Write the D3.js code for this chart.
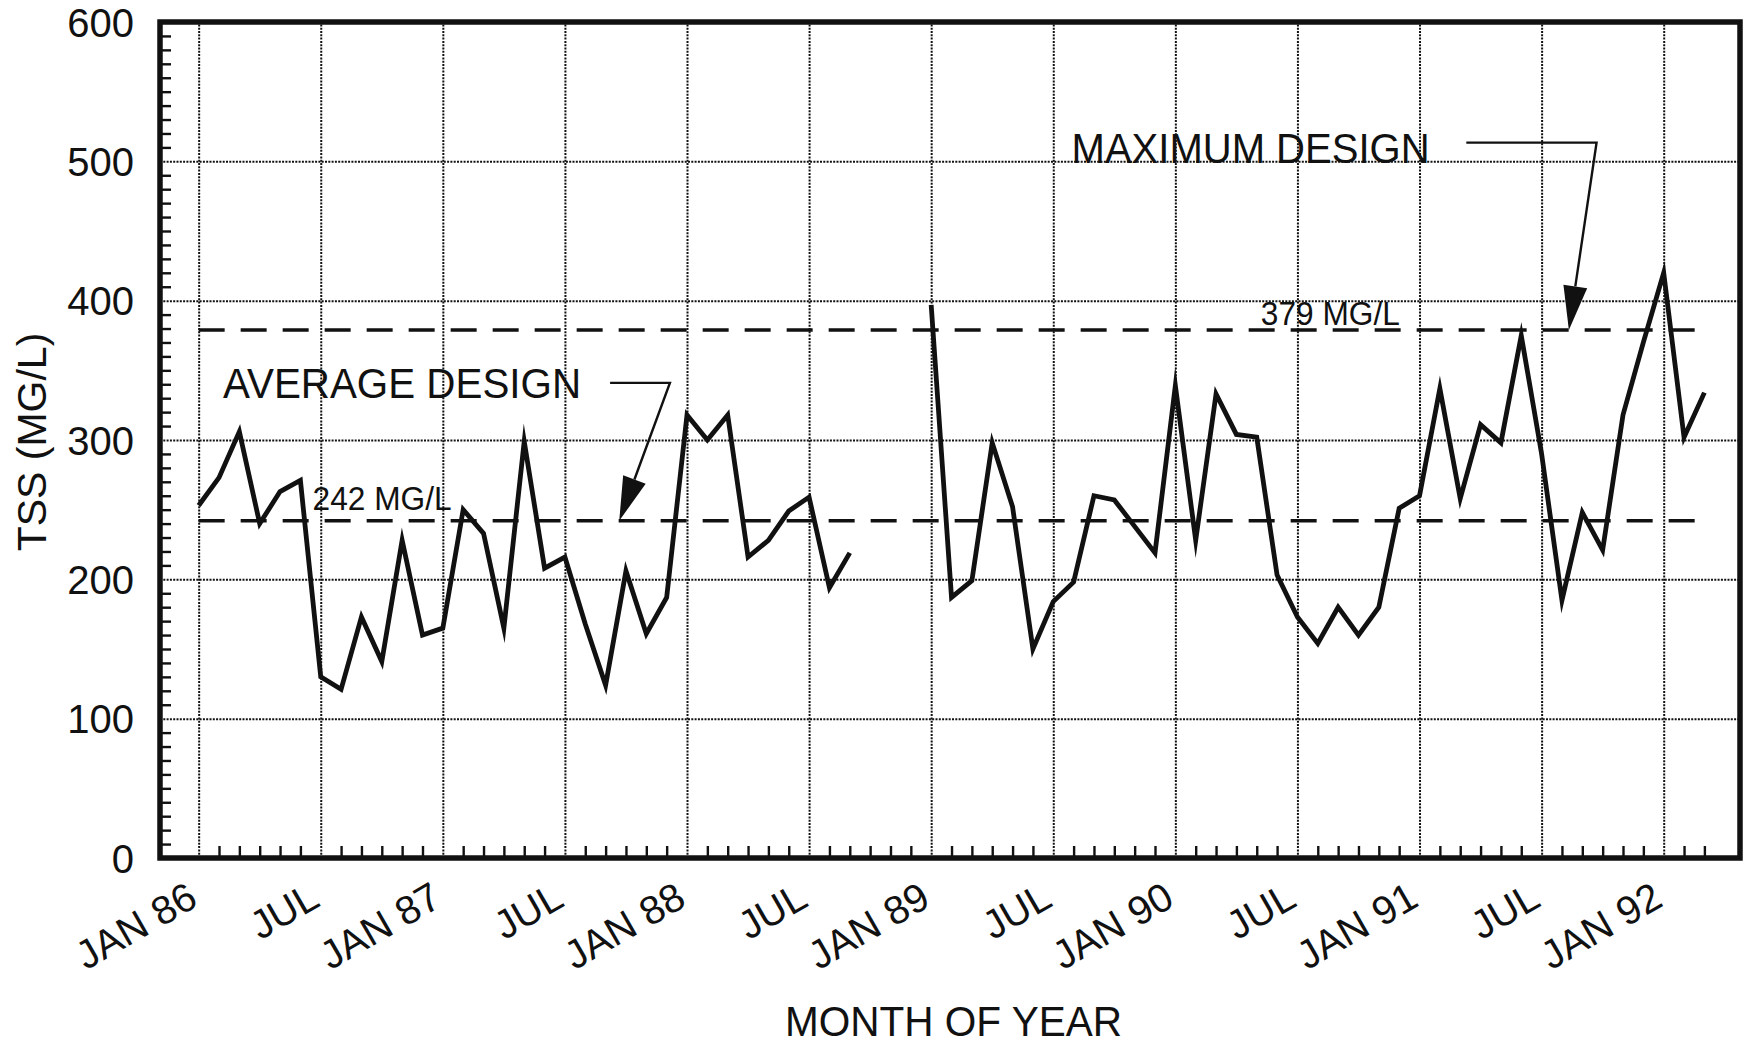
<!DOCTYPE html>
<html><head><meta charset="utf-8">
<script src="https://cdn.jsdelivr.net/npm/d3@7/dist/d3.min.js"></script>
<style>
html,body{margin:0;padding:0;background:#fff;}
svg{display:block;}
text{font-family:"Liberation Sans", Arial, Helvetica, sans-serif; fill:#111;}
</style></head><body>
<svg id="chart" width="1746" height="1047"></svg>
<script>
// ---- data (monthly TSS, month 0 = JAN 86) ----
const tss = [253,273,306,240,263,271,130,121,173,141,228,160,165,250,233,165,299,208,216,168,
  124,206,161,187,318,300,318,216,228,249,259,194,219,null,null,null,
  397,187,199,298,252,150,184,198,260,257,238,219,339,228,333,304,302,203,173,154,180,160,180,251,
  260,337,258,311,298,375,290,185,248,221,318,370,420,302,334];
const majorMonths = [0,6,12,18,24,30,36,42,48,54,60,66,72];
const majorLabels = ["JAN 86","JUL","JAN 87","JUL","JAN 88","JUL","JAN 89","JUL","JAN 90","JUL","JAN 91","JUL","JAN 92"];
const yTicks = [0,100,200,300,400,500,600];
const yGridValues = [100,200,300,400,500];
const designAverage = 242;
const designMaximum = 379;
const designLineMonths = [0,74];
const avgLabel = "242 MG/L", maxLabel = "379 MG/L";

const svg = d3.select("#chart");
const L=160, R=1740, T=22, B=858;
const x = d3.scaleLinear().domain([-1.9, 75.75]).range([L,R]);
const y = d3.scaleLinear().domain([0,600]).range([B,T]);

// grid
const gridStyle = g => g.selectAll("line").attr("stroke","#111").attr("stroke-width",2).attr("stroke-dasharray","2,1.3");
const gy = svg.append("g").attr("transform",`translate(${L},0)`)
  .call(d3.axisLeft(y).tickValues(yGridValues).tickSize(-(R-L)).tickFormat(""));
gy.select(".domain").remove(); gridStyle(gy);
const gx = svg.append("g").attr("transform",`translate(0,${B})`)
  .call(d3.axisBottom(x).tickValues(majorMonths).tickSize(-(B-T)).tickFormat(""));
gx.select(".domain").remove(); gridStyle(gx);

// minor ticks
const minorMonths = d3.range(1,75).filter(m => m%6!==0);
const mx = svg.append("g").attr("transform",`translate(0,${B})`)
  .call(d3.axisBottom(x).tickValues(minorMonths).tickSize(-12).tickFormat(""));
mx.select(".domain").remove(); mx.selectAll("line").attr("stroke","#111").attr("stroke-width",2.4);
const minorY = d3.range(10,600,10).filter(v => v%100!==0);
const my = svg.append("g").attr("transform",`translate(${L},0)`)
  .call(d3.axisLeft(y).tickValues(minorY).tickSize(-11).tickFormat(""));
my.select(".domain").remove(); my.selectAll("line").attr("stroke","#111").attr("stroke-width",2.4);

// frame
svg.append("rect").attr("x",L).attr("y",T).attr("width",R-L).attr("height",B-T)
  .attr("fill","none").attr("stroke","#111").attr("stroke-width",5.5);

// y tick labels
const yl = svg.append("g").attr("transform",`translate(${L},0)`)
  .call(d3.axisLeft(y).tickValues(yTicks).tickSize(0).tickPadding(26));
yl.select(".domain").remove();
yl.selectAll("text").attr("font-size",40).attr("font-family","Liberation Sans, Arial, sans-serif").attr("fill","#111").attr("dy","0.35em");

// x tick labels
svg.append("g").selectAll("text").data(majorMonths).join("text")
  .attr("transform", d => `translate(${x(d)+1},${905}) rotate(-30)`)
  .attr("text-anchor","end").attr("font-size",40)
  .text((d,i)=>majorLabels[i]);

// axis titles
svg.append("text").attr("transform",`translate(46,${(T+B)/2+2}) rotate(-90)`)
  .attr("text-anchor","middle").attr("font-size",41).text("TSS (MG/L)");
svg.append("text").attr("x",785).attr("y",1036).attr("font-size",43)
  .attr("textLength",337).attr("lengthAdjust","spacingAndGlyphs").text("MONTH OF YEAR");

// design lines
[designAverage, designMaximum].forEach(v => {
  svg.append("line").attr("x1",x(designLineMonths[0])).attr("x2",x(designLineMonths[1]))
    .attr("y1",y(v)).attr("y2",y(v)).attr("stroke","#111").attr("stroke-width",3.5)
    .attr("stroke-dasharray","26,16");
});

// data line
const line = d3.line().defined(d => d!=null).x((d,i)=>x(i)).y(d=>y(d));
svg.append("path").datum(tss).attr("d",line).attr("fill","none")
  .attr("stroke","#111").attr("stroke-width",4.8).attr("stroke-linejoin","miter").attr("stroke-miterlimit",10);

// annotations (positions in data coordinates)
function arrow(pts){ // pts: [[m,v],...] last is tip
  const p = pts.map(([m,v])=>[x(m),y(v)]);
  const tip = p[p.length-1], prev = p[p.length-2];
  const dx = tip[0]-prev[0], dy = tip[1]-prev[1], len = Math.hypot(dx,dy);
  const ux=dx/len, uy=dy/len, hl=44, hw=12;
  const bx = tip[0]-hl*ux, by = tip[1]-hl*uy;
  svg.append("polyline").attr("points",[...p.slice(0,-1),[bx,by]].map(q=>q.join(",")).join(" "))
    .attr("fill","none").attr("stroke","#111").attr("stroke-width",2.4);
  svg.append("polygon").attr("points",[[tip[0],tip[1]],[bx+hw*(-uy),by+hw*ux],[bx-hw*(-uy),by-hw*ux]].map(q=>q.join(",")).join(" "))
    .attr("fill","#111");
}
svg.append("text").attr("x",x(1.2)).attr("y",y(330)).attr("font-size",42)
  .attr("textLength",358).attr("lengthAdjust","spacingAndGlyphs").text("AVERAGE DESIGN");
arrow([[20.22,341],[23.16,341],[20.67,designAverage]]);
svg.append("text").attr("x",x(5.6)).attr("y",y(249.5)).attr("font-size",33)
  .attr("textLength",139).attr("lengthAdjust","spacingAndGlyphs").text(avgLabel);

svg.append("text").attr("x",x(42.9)).attr("y",y(498.8)).attr("font-size",42)
  .attr("textLength",358).attr("lengthAdjust","spacingAndGlyphs").text("MAXIMUM DESIGN");
arrow([[62.3,513.4],[68.7,513.4],[67.34,designMaximum]]);
svg.append("text").attr("x",x(52.2)).attr("y",y(382.5)).attr("font-size",33)
  .attr("textLength",139).attr("lengthAdjust","spacingAndGlyphs").text(maxLabel);
</script>
</body></html>
